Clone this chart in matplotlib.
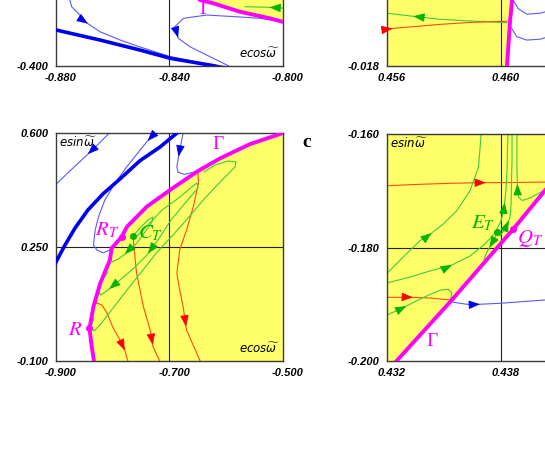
import numpy as np
import matplotlib
matplotlib.use('Agg')
import matplotlib.pyplot as plt
from matplotlib.transforms import ScaledTranslation

# ---------- data (data units of each panel) ----------

# top-left panel (x: ecos w, y: esin w)
tl_thick_x = [-0.885, -0.880, -0.8645, -0.8504, -0.8398, -0.8246, -0.8187]
tl_thick_y = [-0.365, -0.3684, -0.3772, -0.3860, -0.3932, -0.3997, -0.4035]
tl_blue1_x = [-0.8758, -0.8751, -0.8745, -0.8716, -0.8698, -0.8645, -0.8574, -0.8504, -0.8398, -0.8293, -0.8204, -0.815]
tl_blue1_y = [-0.3333, -0.3421, -0.3480, -0.3553, -0.3611, -0.3699, -0.3772, -0.3833, -0.3917, -0.3971, -0.4004, -0.4030]
tl_blue2_x = [-0.795, -0.7997, -0.8081, -0.8152, -0.8269, -0.8351, -0.8381, -0.8369, -0.8328, -0.8269, -0.8198, -0.8180]
tl_blue2_y = [-0.3640, -0.3614, -0.3582, -0.3570, -0.3553, -0.3582, -0.3655, -0.3757, -0.3831, -0.3904, -0.3991, -0.4018]
tl_gamma_x = [-0.8328, -0.8293, -0.8246, -0.8152, -0.8046, -0.7993, -0.795]
tl_gamma_y = [-0.3333, -0.3421, -0.3450, -0.3524, -0.3582, -0.3618, -0.365]
tl_green_x = [-0.797, -0.8052, -0.8134]
tl_green_y = [-0.3496, -0.3485, -0.3480]

# top-right panel
tr_gamma_x = [0.4605, 0.46040, 0.46039, 0.46032, 0.46021, 0.46019]
tr_gamma_y = [-0.0140, -0.01551, -0.01568, -0.01639, -0.01800, -0.01814]
tr_green_x = [0.46021, 0.45891, 0.45786, 0.45687, 0.45600, 0.4559]
tr_green_y = [-0.01648, -0.01642, -0.01636, -0.01625, -0.01615, -0.0161]
tr_red_x = [0.4559, 0.45600, 0.45621, 0.45786, 0.45891, 0.46021]
tr_red_y = [-0.01675, -0.01671, -0.01668, -0.01654, -0.01647, -0.01643]
tr_blue1_x = [0.46045, 0.46042, 0.46060, 0.46090, 0.46137, 0.46165, 0.4619]
tr_blue1_y = [-0.0154, -0.01568, -0.01598, -0.01618, -0.01615, -0.01607, -0.0160]
tr_blue2_x = [0.46037, 0.46055, 0.46090, 0.46137, 0.46165, 0.4619]
tr_blue2_y = [-0.01667, -0.01697, -0.01709, -0.01706, -0.01698, -0.0169]

# bottom-left panel
bl_gamma_x = [-0.47, -0.500, -0.558, -0.611, -0.652, -0.699, -0.740, -0.775, -0.784, -0.802,
              -0.805, -0.822, -0.834, -0.841, -0.837, -0.833, -0.831]
bl_gamma_y = [0.61, 0.600, 0.566, 0.522, 0.481, 0.425, 0.374, 0.312, 0.282, 0.246,
              0.210, 0.139, 0.067, 0.000, -0.056, -0.102, -0.11]
bl_thick_x = [-0.6798, -0.6868, -0.7167, -0.7520, -0.7872, -0.8172, -0.8436, -0.8665, -0.8841, -0.8982, -0.907]
bl_thick_y = [0.612, 0.600, 0.557, 0.515, 0.459, 0.413, 0.364, 0.308, 0.256, 0.210, 0.179]
bl_blue1_x = [-0.803, -0.830, -0.858, -0.880, -0.904]
bl_blue1_y = [0.605, 0.558, 0.512, 0.476, 0.436]
bl_blue2_x = [-0.720, -0.7255, -0.740, -0.775, -0.796, -0.814, -0.825, -0.831, -0.834, -0.828, -0.817, -0.805, -0.800]
bl_blue2_y = [0.612, 0.600, 0.573, 0.497, 0.446, 0.394, 0.343, 0.302, 0.256, 0.241, 0.232, 0.241, 0.252]
bl_blue3_x = [-0.675, -0.676, -0.682, -0.687, -0.685, -0.674, -0.659, -0.650]
bl_blue3_y = [0.612, 0.599, 0.548, 0.497, 0.480, 0.473, 0.479, 0.483]
bl_red1_x = [-0.650, -0.649, -0.658, -0.670, -0.682, -0.687, -0.682, -0.676, -0.670, -0.646, -0.640]
bl_red1_y = [0.483, 0.446, 0.374, 0.302, 0.241, 0.169, 0.118, 0.067, -0.005, -0.100, -0.115]
bl_red2_x = [-0.764, -0.763, -0.758, -0.752, -0.746, -0.734, -0.729, -0.717, -0.714]
bl_red2_y = [0.284, 0.256, 0.169, 0.118, 0.067, -0.005, -0.056, -0.102, -0.112]
bl_red3_x = [-0.835, -0.828, -0.819, -0.810, -0.800, -0.787, -0.778, -0.773, -0.770]
bl_red3_y = [0.070, 0.078, 0.072, 0.047, 0.004, -0.036, -0.071, -0.102, -0.112]
bl_green1_x = [-0.6392, -0.6198, -0.5969, -0.5828, -0.5846, -0.6075, -0.6375, -0.6674, -0.6938,
               -0.7220, -0.7467, -0.7749, -0.8049, -0.8225, -0.8330, -0.8383, -0.8330]
bl_green1_y = [0.4802, 0.5017, 0.5140, 0.5109, 0.4956, 0.4557, 0.4004, 0.3390, 0.2868,
               0.2346, 0.1794, 0.1180, 0.0504, 0.0105, -0.0079, 0.0044, 0.0320]
bl_green2_x = [-0.7608, -0.7379, -0.7132, -0.6815, -0.6586, -0.6516, -0.6498, -0.6709, -0.6974,
               -0.7203, -0.7397, -0.7626, -0.7872, -0.8084, -0.8207, -0.8260, -0.8207, -0.8084]
bl_green2_y = [0.2776, 0.3175, 0.3636, 0.4035, 0.4373, 0.4465, 0.4311, 0.3881, 0.3329,
               0.2715, 0.2254, 0.1855, 0.1487, 0.1180, 0.1026, 0.1149, 0.1425, 0.1732]
bl_green3_x = [-0.7643, -0.7520, -0.7379, -0.7291, -0.7308, -0.7432, -0.7573, -0.7731, -0.7802, -0.7907, -0.8013]
bl_green3_y = [0.2838, 0.3083, 0.3329, 0.3421, 0.3268, 0.2960, 0.2623, 0.2377, 0.2254, 0.2131, 0.2039]
bl_R = (-0.841, 0.000)
bl_RT = (-0.784, 0.282)
bl_CT = (-0.764, 0.284)

# bottom-right panel
br_gamma_x = [0.4323, 0.4325, 0.4354, 0.43865, 0.44275, 0.4431]
br_gamma_y = [-0.201, -0.200, -0.1893, -0.17674, -0.160, -0.159]
br_red1_x = [0.4318, 0.43200, 0.43374, 0.43532, 0.43689, 0.43847, 0.44058]
br_red1_y = [-0.16915, -0.16911, -0.16886, -0.16869, -0.16858, -0.16855, -0.16846]
br_red2_x = [0.4318, 0.43200, 0.43332, 0.43426, 0.43532]
br_red2_y = [-0.18878, -0.18878, -0.18878, -0.18890, -0.18925]
br_blue_x = [0.43532, 0.43551, 0.43621, 0.43684, 0.43795, 0.44032, 0.44400]
br_blue_y = [-0.18925, -0.18966, -0.19001, -0.19001, -0.18983, -0.18925, -0.18855]
br_green1_x = [0.4318, 0.43200, 0.43305, 0.43374, 0.43435, 0.43496, 0.43567, 0.43637, 0.43681, 0.43689, 0.43695]
br_green1_y = [-0.1850, -0.18455, -0.18102, -0.17880, -0.17745, -0.17586, -0.17352, -0.16999, -0.16587, -0.16282, -0.16000]
br_green2_x = [0.43200, 0.43321, 0.43426, 0.43542, 0.43637, 0.43716, 0.43768, 0.43800, 0.43816, 0.43826, 0.43832, 0.43834, 0.43837]
br_green2_y = [-0.18626, -0.18520, -0.18414, -0.18308, -0.18150, -0.17938, -0.17745, -0.17533, -0.17304, -0.16987, -0.16635, -0.16282, -0.16000]
br_green3_x = [0.43200, 0.43279, 0.43393, 0.43481, 0.43525, 0.43542, 0.43534]
br_green3_y = [-0.19189, -0.19071, -0.18878, -0.18749, -0.18737, -0.18807, -0.18916]
br_green4_x = [0.43781, 0.43753, 0.43726, 0.43711]
br_green4_y = [-0.17732, -0.17921, -0.18079, -0.18203]
br_green5_x = [0.43795, 0.43826, 0.43847, 0.43853, 0.43855, 0.43858, 0.43858]
br_green5_y = [-0.17798, -0.17639, -0.17480, -0.17251, -0.16899, -0.16458, -0.16000]
br_green6_x = [0.44016, 0.43953, 0.43911, 0.43892, 0.43887, 0.43884, 0.43884, 0.43884]
br_green6_y = [-0.17013, -0.17128, -0.17172, -0.17110, -0.16987, -0.16635, -0.16282, -0.16000]
br_ET = (0.43781, -0.17732)
br_QT = (0.43865, -0.17674)

# ---------- colours / helpers ----------
YELLOW = '#ffff6a'
MAG = '#ff00ff'
BLUE = '#0000f0'
LBLUE = '#5a5aff'
GREEN = '#3ccc3c'
DGREEN = '#00b400'
RED = '#ff4a14'
RARROW = '#ff0000'

fig = plt.figure(figsize=(5.45, 4.67), dpi=100)


def arrow(ax, xs, ys, i, t, color):
    x0, y0, x1, y1 = xs[i], ys[i], xs[i + 1], ys[i + 1]
    xh, yh = x0 + (x1 - x0) * t, y0 + (y1 - y0) * t
    xb, yb = x0 + (x1 - x0) * (t - 0.2), y0 + (y1 - y0) * (t - 0.2)
    ax.annotate('', xy=(xh, yh), xytext=(xb, yb),
                arrowprops=dict(arrowstyle='-|>,head_length=0.5,head_width=0.19',
                                color=color, lw=0.6, shrinkA=0, shrinkB=0,
                                mutation_scale=14), zorder=5)


def setup(ax, xt, yt, xshow=(1, 1, 1), yshow=(1, 1, 1)):
    # xshow / yshow: which of the three tick labels fall inside the picture
    ax.set_xlim(xt[0], xt[-1])
    ax.set_ylim(yt[0], yt[-1])
    ax.set_xticks(xt)
    ax.set_yticks(yt)
    ax.set_xticklabels(['%.3f' % v if s else '' for v, s in zip(xt, xshow)],
                       fontstyle='italic', fontweight='bold', fontsize=8, family='Liberation Sans')
    ax.set_yticklabels(['%.3f' % v if s else '' for v, s in zip(yt, yshow)],
                       fontstyle='italic', fontweight='bold', fontsize=8, family='Liberation Sans')
    ax.tick_params(length=0, pad=5)
    # labels in the original sit a few pixels right of their tick
    shift = ScaledTranslation(5 / 100, 0, fig.dpi_scale_trans)
    for lbl in ax.get_xticklabels():
        lbl.set_transform(lbl.get_transform() + shift)
    for s in ax.spines.values():
        s.set_color('#3a3a3a')
        s.set_linewidth(1.0)
    ax.axvline(xt[1], color='#222222', lw=0.8, zorder=1)
    ax.axhline(yt[1], color='#222222', lw=0.8, zorder=1)


def ecos_label(ax):
    ax.text(0.985, 0.02, r'$ecos\widetilde{\omega}$', transform=ax.transAxes, ha='right', va='bottom',
            fontsize=8.5, math_fontfamily='dejavusans', zorder=6)


def esin_label(ax):
    ax.text(0.015, 0.985, r'$esin\widetilde{\omega}$', transform=ax.transAxes, ha='left', va='top',
            fontsize=8.5, math_fontfamily='dejavusans', zorder=6)


# ---------- top-left ----------
ax = fig.add_axes([0.10275, 0.85867, 0.41651, 0.48822])
setup(ax, [-0.880, -0.840, -0.800], [-0.400, -0.300, -0.200], yshow=(1, 0, 0))
ax.fill_between(tl_gamma_x, tl_gamma_y, -0.2, color=YELLOW, lw=0, zorder=0.5)
ax.plot(tl_thick_x, tl_thick_y, color=BLUE, lw=2.6, zorder=3)
ax.plot(tl_blue1_x, tl_blue1_y, color=LBLUE, lw=0.8, zorder=2)
arrow(ax, tl_blue1_x, tl_blue1_y, 4, 0.2, BLUE)
ax.plot(tl_blue2_x, tl_blue2_y, color=LBLUE, lw=0.8, zorder=2)
arrow(ax, tl_blue2_x, tl_blue2_y, 6, 0.95, BLUE)
ax.plot(tl_gamma_x, tl_gamma_y, color=MAG, lw=2.8, zorder=3)
ax.plot(tl_green_x, tl_green_y, color=GREEN, lw=0.8, zorder=2)
arrow(ax, tl_green_x, tl_green_y, 0, 0.95, DGREEN)
ax.text(-0.8275, -0.3505, 'Γ', color=MAG, fontsize=14, family='Liberation Serif', ha='center', va='center')
ecos_label(ax)

# ---------- top-right ----------
ax = fig.add_axes([0.71009, 0.85867, 0.41835, 0.48822])
setup(ax, [0.456, 0.460, 0.464], [-0.018, -0.014, -0.010], xshow=(1, 1, 0), yshow=(1, 0, 0))
ax.fill_betweenx(tr_gamma_y, 0.456, tr_gamma_x, color=YELLOW, lw=0, zorder=0.5)
ax.plot(tr_gamma_x, tr_gamma_y, color=MAG, lw=2.8, zorder=3)
ax.plot(tr_green_x, tr_green_y, color=GREEN, lw=0.8, zorder=2)
arrow(ax, tr_green_x, tr_green_y, 2, 0.95, DGREEN)
ax.plot(tr_red_x, tr_red_y, color=RED, lw=0.8, zorder=2)
arrow(ax, tr_red_x, tr_red_y, 1, 0.95, RARROW)
ax.plot(tr_blue1_x, tr_blue1_y, color=LBLUE, lw=0.8, zorder=2)
ax.plot(tr_blue2_x, tr_blue2_y, color=LBLUE, lw=0.8, zorder=2)

# ---------- bottom-left ----------
ax = fig.add_axes([0.10275, 0.22698, 0.41651, 0.48822])
setup(ax, [-0.900, -0.700, -0.500], [-0.100, 0.250, 0.600])
ax.fill_betweenx(bl_gamma_y, bl_gamma_x, -0.45, color=YELLOW, lw=0, zorder=0.5)
ax.plot(bl_thick_x, bl_thick_y, color=BLUE, lw=2.6, zorder=3)
for xs, ys, i, t in [(bl_blue1_x, bl_blue1_y, 1, 0.5), (bl_blue2_x, bl_blue2_y, 1, 0.9),
                     (bl_blue3_x, bl_blue3_y, 2, 0.4)]:
    ax.plot(xs, ys, color=LBLUE, lw=0.8, zorder=2)
    arrow(ax, xs, ys, i, t, BLUE)
for xs, ys, i, t in [(bl_red1_x, bl_red1_y, 7, 0.85), (bl_red2_x, bl_red2_y, 5, 0.9),
                     (bl_red3_x, bl_red3_y, 5, 0.9)]:
    ax.plot(xs, ys, color=RED, lw=0.8, zorder=2)
    arrow(ax, xs, ys, i, t, RARROW)
ax.plot(bl_green1_x, bl_green1_y, color=GREEN, lw=0.8, zorder=2)
ax.plot(bl_green2_x, bl_green2_y, color=GREEN, lw=0.8, zorder=2)
arrow(ax, bl_green2_x, bl_green2_y, 9, 0.9, DGREEN)
arrow(ax, bl_green2_x, bl_green2_y, 12, 0.9, DGREEN)
ax.plot(bl_green3_x, bl_green3_y, color=GREEN, lw=0.8, zorder=2)
arrow(ax, bl_green3_x, bl_green3_y, 7, 0.8, DGREEN)
ax.plot(bl_gamma_x, bl_gamma_y, color=MAG, lw=2.8, zorder=3)
ax.plot(*bl_R, 'o', color=MAG, ms=4, zorder=4)
ax.plot(*bl_RT, 'o', color=MAG, ms=4, zorder=4)
ax.plot(*bl_CT, 'o', color=DGREEN, ms=4, zorder=4)
ax.text(-0.8665, -0.002, r'$R$', color=MAG, fontsize=15, math_fontfamily='stix', ha='center', va='center')
ax.text(-0.809, 0.302, r'$R_T$', color=MAG, fontsize=15, math_fontfamily='stix', ha='center', va='center')
ax.text(-0.733, 0.293, r'$C_T$', color=DGREEN, fontsize=15, math_fontfamily='stix', ha='center', va='center')
ax.text(-0.6146, 0.566, 'Γ', color=MAG, fontsize=14, family='Liberation Serif', ha='center', va='center')
ecos_label(ax)
esin_label(ax)

# ---------- bottom-right ----------
ax = fig.add_axes([0.71009, 0.22698, 0.41835, 0.48608])
setup(ax, [0.432, 0.438, 0.444], [-0.200, -0.180, -0.160], xshow=(1, 1, 0))
ax.fill_betweenx(br_gamma_y, 0.431, br_gamma_x, color=YELLOW, lw=0, zorder=0.5)
ax.plot(br_red1_x, br_red1_y, color=RED, lw=0.8, zorder=2)
arrow(ax, br_red1_x, br_red1_y, 4, 0.2, RARROW)
ax.plot(br_red2_x, br_red2_y, color=RED, lw=0.8, zorder=2)
arrow(ax, br_red2_x, br_red2_y, 2, 0.05, RARROW)
ax.plot(br_blue_x, br_blue_y, color=LBLUE, lw=0.8, zorder=2)
arrow(ax, br_blue_x, br_blue_y, 3, 0.05, BLUE)
for xs, ys, arrs in [(br_green1_x, br_green1_y, [(4, 0.0)]),
                     (br_green2_x, br_green2_y, [(3, 0.0), (8, 0.3)]),
                     (br_green3_x, br_green3_y, [(1, 0.2)]),
                     (br_green4_x, br_green4_y, [(1, 0.5)]),
                     (br_green5_x, br_green5_y, [(1, 0.7)]),
                     (br_green6_x, br_green6_y, [(4, 0.3)])]:
    ax.plot(xs, ys, color=GREEN, lw=0.8, zorder=2)
    for i, t in arrs:
        arrow(ax, xs, ys, i, t, DGREEN)
ax.plot(br_gamma_x, br_gamma_y, color=MAG, lw=2.8, zorder=3)
ax.plot(*br_ET, 'o', color=DGREEN, ms=4, zorder=4)
ax.plot(*br_QT, 'o', color=MAG, ms=4, zorder=4)
ax.text(0.43705, -0.1757, r'$E_T$', color=DGREEN, fontsize=15, math_fontfamily='stix', ha='center', va='center')
ax.text(0.43955, -0.1784, r'$Q_T$', color=MAG, fontsize=15, math_fontfamily='stix', ha='center', va='center')
ax.text(0.43435, -0.1966, 'Γ', color=MAG, fontsize=14, family='Liberation Serif', ha='center', va='center')
esin_label(ax)

fig.text(0.5633, 0.6938, 'c', fontsize=14, fontweight='bold', family='Liberation Serif', ha='center', va='center')

fig.savefig('out.png', dpi=100)
